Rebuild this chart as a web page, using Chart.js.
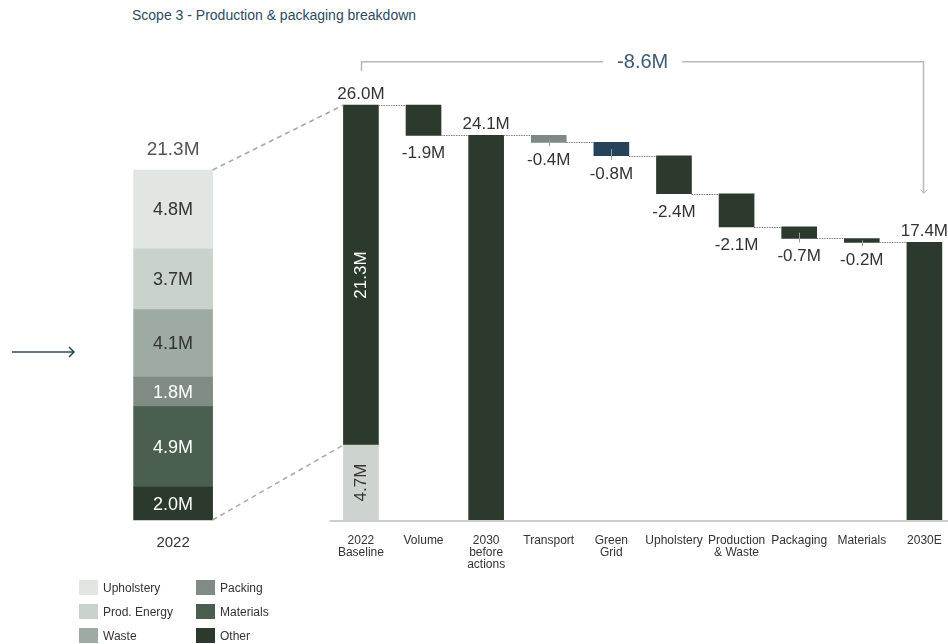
<!DOCTYPE html>
<html>
<head>
<meta charset="utf-8">
<title>Scope 3 - Production & packaging breakdown</title>
<script src="https://cdn.jsdelivr.net/npm/chart.js@4.4.1/dist/chart.umd.min.js"></script>
<style>
  html, body { margin: 0; padding: 0; background: #fff; width: 948px; height: 644px; overflow: hidden; }
  body { position: relative; font-family: "Liberation Sans", Arial, Helvetica, sans-serif; }
  #title { position: absolute; left: 132px; top: 7px; font-size: 14px; line-height: 16px; color: #2d4a5e; }
  #c { position: absolute; left: 0; top: 0; }
  #legend { position: absolute; left: 79px; top: 580px; display: grid; grid-auto-flow: column;
            grid-template-rows: repeat(3, 15px); grid-template-columns: 117px 120px; row-gap: 9px; }
  .item { display: flex; align-items: center; font-size: 12px; color: #333; height: 15px; }
  .sw { width: 19px; height: 15px; margin-right: 5px; flex: none; }
</style>
</head>
<body>
<div id="title">Scope 3 - Production &amp; packaging breakdown</div>
<canvas id="c" width="956" height="644"></canvas>
<div id="legend"></div>
<script>
const FONT = '"Liberation Sans", Arial, Helvetica, sans-serif';

// categorias do eixo x (posições 1 e 2 ficam vazias entre a barra 2022 e o waterfall)
const categories = ['2022', '', '', ['2022', 'Baseline'], 'Volume', ['2030', 'before', 'actions'],
  'Transport', ['Green', 'Grid'], 'Upholstery', ['Production', '& Waste'], 'Packaging', 'Materials', '2030E'];

// composição 2022 (de cima para baixo)
const mixNames = ['Upholstery', 'Prod. Energy', 'Waste', 'Packing', 'Materials', 'Other'];
const mixValues = [4.8, 3.7, 4.1, 1.8, 4.9, 2.0];
const mixColors = ['#e1e6e2', '#c9d2cb', '#9eaba2', '#7f8b83', '#4a5f4f', '#2b3a2c'];

// waterfall
const baselineParts = [4.7, 21.3];   // parte clara, parte escura
const baselineTotal = 26.0;
const volumeDelta = -1.9;
const beforeActions = 24.1;
const actionDeltas = [-0.44, -0.84, -2.38, -2.07, -0.73, -0.24];
const final2030 = 17.4;

const DARK = '#2b3a2c';
const n = categories.length;
const MIX = 0, BASE = 3, VOL = 4, BEFORE = 5, FIRST_ACTION = 6, END = 12;

const blank = () => new Array(n).fill(null);

const lowerData = blank();
lowerData[BASE] = [0, baselineParts[0]];

const totalData = blank();
totalData[BASE] = [baselineParts[0], baselineParts[0] + baselineParts[1]];
totalData[BEFORE] = [0, beforeActions];
totalData[END] = [0, final2030];

const changeData = blank();
changeData[VOL] = [baselineTotal, baselineTotal + volumeDelta];
let run = beforeActions;
actionDeltas.forEach((d, i) => {
  changeData[FIRST_ACTION + i] = [run, run + d];
  run += d;
});
const changeDeltas = blank();
changeDeltas[VOL] = volumeDelta;
actionDeltas.forEach((d, i) => { changeDeltas[FIRST_ACTION + i] = d; });

const changeColors = changeData.map((v, i) =>
  i === FIRST_ACTION ? '#7e8984' : i === FIRST_ACTION + 1 ? '#26435a' : DARK);

// barras empilhadas de 2022: 'Other' fica embaixo
const mixSets = mixNames.map((name, k) => {
  const data = blank();
  data[MIX] = mixValues[k];
  return { label: name, data, backgroundColor: mixColors[k], yAxisID: 'y2', barThickness: 79,
           grouped: false, borderWidth: 0, clip: false, mixIndex: k };
}).reverse();

const NMIX = mixSets.length;
const LOWER = NMIX, TOTAL = NMIX + 1, CHANGE = NMIX + 2;

const overlay = {
  id: 'overlay',
  afterDatasetsDraw(chart) {
    const { ctx, chartArea, scales } = chart;
    const xs = scales.x, ys = scales.y;
    const step = xs.getPixelForValue(1) - xs.getPixelForValue(0);
    const bar = (set, i) => chart.getDatasetMeta(set).data[i].getProps(['x', 'y', 'base', 'width'], true);
    ctx.save();

    // linha do eixo
    ctx.strokeStyle = '#c8d0cb';
    ctx.lineWidth = 2;
    ctx.beginPath();
    ctx.moveTo(xs.getPixelForValue(BASE) - step / 2, chartArea.bottom + 1);
    ctx.lineTo(chart.width, chartArea.bottom + 1);
    ctx.stroke();

    // linhas tracejadas entre 2022 e o baseline
    const mixTop = bar(NMIX - 1, MIX), mixBottom = bar(0, MIX);
    const baseTop = bar(TOTAL, BASE);
    ctx.strokeStyle = '#9fada3';
    ctx.lineWidth = 1.5;
    ctx.setLineDash([5, 4]);
    ctx.beginPath();
    ctx.moveTo(mixTop.x + mixTop.width / 2, mixTop.y);
    ctx.lineTo(baseTop.x - baseTop.width / 2, baseTop.y);
    ctx.moveTo(mixBottom.x + mixBottom.width / 2, mixBottom.base);
    ctx.lineTo(baseTop.x - baseTop.width / 2, baseTop.base);
    ctx.stroke();

    // conectores pontilhados do waterfall
    ctx.setLineDash([1.5, 1]);
    ctx.strokeStyle = '#7d7d7d';
    ctx.lineWidth = 1;
    for (let j = BASE; j < END; j++) {
      const level = (totalData[j] || changeData[j])[1];
      const a = bar(totalData[j] ? TOTAL : CHANGE, j);
      const b = bar(totalData[j + 1] ? TOTAL : CHANGE, j + 1);
      const y = Math.round(ys.getPixelForValue(level)) + 0.5;
      ctx.beginPath();
      ctx.moveTo(a.x + a.width / 2, y);
      ctx.lineTo(b.x - b.width / 2, y);
      ctx.stroke();
    }
    ctx.setLineDash([]);

    // pequenos traços nas barras finas
    ctx.strokeStyle = '#9a9f9b';
    for (let j = VOL; j < END; j++) {
      if (changeData[j] === null) continue;
      const el = bar(CHANGE, j);
      const top = Math.min(el.y, el.base), bottom = Math.max(el.y, el.base);
      if (bottom - top > 16) continue;
      ctx.beginPath();
      ctx.moveTo(Math.round(el.x) + 0.5, (top + bottom) / 2);
      ctx.lineTo(Math.round(el.x) + 0.5, bottom + 4);
      ctx.stroke();
    }

    // rótulos de valores
    ctx.textAlign = 'center';
    ctx.textBaseline = 'alphabetic';
    ctx.fillStyle = '#333';
    ctx.font = '17px ' + FONT;
    [BASE, BEFORE, END].forEach(j => {
      const el = bar(TOTAL, j);
      ctx.fillText(totalData[j][1].toFixed(1) + 'M', el.x, el.y - 6.5);
    });
    for (let j = VOL; j < END; j++) {
      if (changeDeltas[j] === null) continue;
      const el = bar(CHANGE, j);
      ctx.fillText(changeDeltas[j].toFixed(1) + 'M', el.x, Math.max(el.y, el.base) + 23);
    }

    // rótulos verticais no baseline
    const lower = bar(LOWER, BASE);
    [[baseTop, baselineParts[1], '#fff'], [lower, baselineParts[0], '#333']].forEach(([el, v, col]) => {
      ctx.save();
      ctx.translate(el.x, (el.y + el.base) / 2);
      ctx.rotate(-Math.PI / 2);
      ctx.fillStyle = col;
      ctx.textBaseline = 'middle';
      ctx.fillText(v.toFixed(1) + 'M', 0, 0);
      ctx.restore();
    });

    // rótulos da barra 2022
    ctx.textBaseline = 'middle';
    ctx.font = '18px ' + FONT;
    mixSets.forEach((ds, k) => {
      const el = bar(k, MIX);
      ctx.fillStyle = ds.mixIndex < 3 ? '#333' : '#fff';
      ctx.fillText(mixValues[ds.mixIndex].toFixed(1) + 'M', el.x, (el.y + el.base) / 2 + 1);
    });
    const mixTotal = mixValues.reduce((a, b) => a + b, 0);
    ctx.fillStyle = '#555';
    ctx.font = '19px ' + FONT;
    ctx.fillText(mixTotal.toFixed(1) + 'M', mixTop.x, mixTop.y - 20.5);

    // colchete -8.6M
    const endBar = bar(TOTAL, END);
    const bracketY = chartArea.top + 20.5;
    const midX = (baseTop.x + endBar.x) / 2;
    const diffText = (final2030 - baselineTotal).toFixed(1) + 'M';
    ctx.font = '20px ' + FONT;
    const half = ctx.measureText(diffText).width / 2 + 14;
    ctx.strokeStyle = '#b3bcb6';
    ctx.lineWidth = 1.5;
    ctx.beginPath();
    ctx.moveTo(Math.round(baseTop.x) + 0.5, baseTop.y - 34);
    ctx.lineTo(Math.round(baseTop.x) + 0.5, bracketY);
    ctx.lineTo(midX - half, bracketY);
    ctx.moveTo(midX + half, bracketY);
    ctx.lineTo(Math.round(endBar.x) - 0.5, bracketY);
    ctx.lineTo(Math.round(endBar.x) - 0.5, endBar.y - 49);
    ctx.stroke();
    ctx.lineWidth = 1;
    ctx.beginPath();
    ctx.moveTo(endBar.x - 4, endBar.y - 53);
    ctx.lineTo(endBar.x - 0.5, endBar.y - 49);
    ctx.lineTo(endBar.x + 3, endBar.y - 53);
    ctx.stroke();
    ctx.fillStyle = '#3b5a70';
    ctx.fillText(diffText, midX, bracketY + 1);

    // seta à esquerda
    ctx.strokeStyle = '#2d4a5e';
    ctx.lineWidth = 1.5;
    ctx.beginPath();
    ctx.moveTo(12, 352);
    ctx.lineTo(74, 352);
    ctx.moveTo(69, 347);
    ctx.lineTo(74, 352);
    ctx.lineTo(69, 357);
    ctx.stroke();

    ctx.restore();
  }
};

new Chart(document.getElementById('c'), {
  type: 'bar',
  data: {
    labels: categories,
    datasets: [
      ...mixSets,
      { label: 'Baseline lower', data: lowerData, backgroundColor: '#cdd4cf', yAxisID: 'y',
        barThickness: 35, grouped: false, borderWidth: 0, clip: false },
      { label: 'Totals', data: totalData, backgroundColor: DARK, yAxisID: 'y',
        barThickness: 35, grouped: false, borderWidth: 0, clip: false },
      { label: 'Changes', data: changeData, backgroundColor: changeColors, yAxisID: 'y',
        barThickness: 35, grouped: false, borderWidth: 0, clip: false }
    ]
  },
  options: {
    responsive: false,
    animation: false,
    events: [],
    layout: { padding: { left: 141.8, right: 0.3, top: 41.2, bottom: 24 } },
    plugins: { legend: { display: false }, tooltip: { enabled: false } },
    scales: {
      x: {
        grid: { display: false },
        border: { display: false },
        afterFit: (scale) => { scale.height = 100; },
        ticks: {
          autoSkip: false,
          maxRotation: 0,
          padding: 7,
          color: '#333',
          font: (c) => ({ family: FONT, size: c.index === MIX ? 15 : 12, lineHeight: 1.0 })
        }
      },
      y: { display: false, min: 0, max: 30 },
      y2: { display: false, min: 0, max: 29.14, stacked: true }
    }
  },
  plugins: [overlay]
});

// legenda
const legend = document.getElementById('legend');
mixNames.forEach((name, k) => {
  const item = document.createElement('div');
  item.className = 'item';
  item.innerHTML = '<span class="sw" style="background:' + mixColors[k] + '"></span>' + name;
  legend.appendChild(item);
});
</script>
</body>
</html>
